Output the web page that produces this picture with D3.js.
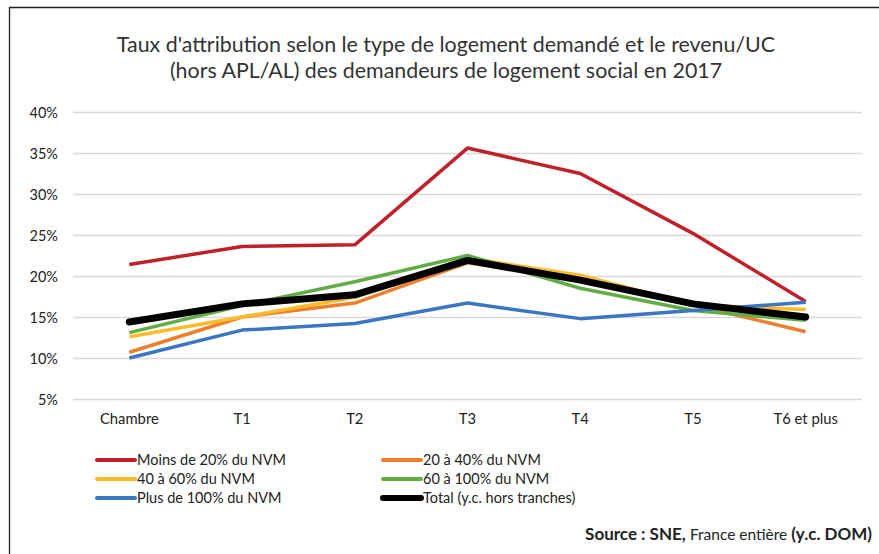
<!DOCTYPE html>
<html>
<head>
<meta charset="utf-8">
<script src="https://cdn.jsdelivr.net/npm/d3@7"></script>
<style>
body { margin: 0; background: #fff; }
text { font-family: Lato, "Open Sans", sans-serif; fill: #222; }
</style>
</head>
<body>
<div id="svg"></div>
<script>
let categories = ['Chambre', 'T1', 'T2', 'T3', 'T4', 'T5', 'T6 et plus']
let yTicks = [5, 10, 15, 20, 25, 30, 35, 40]

let seriesNames = ['Moins de 20% du NVM', '20 à 40% du NVM', '40 à 60% du NVM',
	'60 à 100% du NVM', 'Plus de 100% du NVM', 'Total (y.c. hors tranches)']
let moins20 = [21.4, 23.6, 23.8, 35.6, 32.5, 25.2, 16.9]
let de20a40 = [10.7, 15.0, 16.7, 21.6, 19.7, 16.5, 13.2]
let de40a60 = [12.6, 15.0, 17.4, 22.2, 20.1, 16.5, 15.9]
let de60a100 = [13.1, 16.4, 19.3, 22.5, 18.5, 15.8, 14.6]
let plus100 = [10.0, 13.4, 14.2, 16.7, 14.8, 15.8, 16.8]
let total = [14.4, 16.6, 17.7, 21.9, 19.5, 16.6, 15.0]

let colors = ['#c0202a', '#ee7f2d', '#fdbb2b', '#62ac46', '#3b76c2', '#000']
let widths = [3.5, 3.5, 3.5, 3.5, 3.5, 7]
let seriesValues = [moins20, de20a40, de40a60, de60a100, plus100, total]

let width = 879, height = 554
let margin = {top: 112, left: 73, right: 17, bottom: 155}

let svg = d3.select('#svg')
.append('svg')
.attr('width', width)
.attr('height', height)

// border
svg.append('path')
.attr('d', `M9.5,${height} V7.5 H${width}`)
.style('fill', 'none')
.style('stroke', '#222')
.style('stroke-width', 1.3)

svg.append('text')
.attr('x', 446).attr('y', 52)
.style('text-anchor', 'middle')
.style('font-size', 21.4)
.style('fill', '#333')
.text("Taux d'attribution selon le type de logement demandé et le revenu/UC")

svg.append('text')
.attr('x', 446).attr('y', 78)
.style('text-anchor', 'middle')
.style('font-size', 21.4)
.style('fill', '#333')
.text('(hors APL/AL) des demandeurs de logement social en 2017')

let xScale = d3.scaleBand()
.domain(categories)
.range([margin.left, width - margin.right])

let yScale = d3.scaleLinear()
.domain([5, 40])
.range([height - margin.bottom, margin.top])

// gridlines
svg.append('g')
.attr('transform', `translate(${margin.left}, 0)`)
.call(d3.axisLeft(yScale).tickValues(yTicks)
	.tickSize(-(width - margin.left - margin.right))
	.tickPadding(15)
	.tickFormat(d => d + '%'))
.call(g => g.select('.domain').remove())
.call(g => g.selectAll('line').style('stroke', '#d9d9d9').style('stroke-width', 1.5))
.call(g => g.selectAll('text').style('font-size', 14.5).style('font-family', 'Lato').attr('dy', '0.4em'))

svg.append('g')
.attr('transform', `translate(0, ${height - margin.bottom})`)
.call(d3.axisBottom(xScale).tickSize(0).tickPadding(14))
.call(g => g.select('.domain').remove())
.call(g => g.selectAll('text').style('font-size', 14.8).style('font-family', 'Lato'))

let line = d3.line()
.x((d, i) => xScale(categories[i]) + xScale.bandwidth() / 2)
.y(d => yScale(d))

svg.selectAll('.series')
.data(seriesValues)
.join('path')
.attr('class', 'series')
.attr('d', line)
.style('fill', 'none')
.style('stroke', (d, i) => colors[i])
.style('stroke-width', (d, i) => widths[i])
.style('stroke-linejoin', 'round')
.style('stroke-linecap', (d, i) => i == 5 ? 'round' : 'butt')

// legend
let legendX = [97, 383], legendY = [460, 479, 498]
let legend = svg.selectAll('.legend')
.data(seriesNames)
.join('g')
.attr('class', 'legend')
.attr('transform', (d, i) => `translate(${legendX[i % 2]}, ${legendY[Math.floor(i / 2)]})`)

legend.append('line')
.attr('x1', 0).attr('x2', 38)
.style('stroke', (d, i) => colors[i])
.style('stroke-width', (d, i) => i == 5 ? 6 : 4)
.style('stroke-linecap', 'round')

legend.append('text')
.attr('x', 40).attr('dy', '0.35em')
.style('font-size', 14.5)
.text(d => d)

let source = svg.append('text')
.attr('x', 872).attr('y', 540)
.style('text-anchor', 'end')
.style('font-size', 17)
.style('font-weight', 'bold')
source.append('tspan').text('Source : SNE, ')
source.append('tspan').style('font-weight', 'normal').style('font-size', 15.5).text('France entière ')
source.append('tspan').text('(y.c. DOM)')
</script>
</body>
</html>
